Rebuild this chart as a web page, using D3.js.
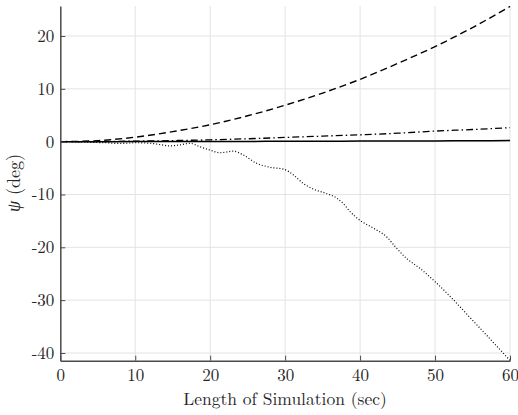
<!DOCTYPE html>
<html><head><meta charset="utf-8">
<script src="https://cdn.jsdelivr.net/npm/d3@7"></script>
<style>body{margin:0;background:#fff}svg{display:block}</style>
</head><body><svg id="c" width="518" height="415"></svg>
<script>
const xTicks = [0,10,20,30,40,50,60];
const yTicks = [-40,-30,-20,-10,0,10,20];
const tGrid = [0,5,10,15,20,25,30,35,40,45,50,55,60];
const dashedVals = [0,0.2,0.85,1.9,3.2,4.9,6.9,9.2,11.8,14.8,18.0,21.6,25.6];
const dashDotVals = [0,0.02,0.1,0.2,0.35,0.55,0.8,1.05,1.3,1.6,2.0,2.3,2.65];
const solidVals = [0,0,0.01,0.02,0.03,0.05,0.07,0.09,0.11,0.13,0.15,0.17,0.2];
const tDotted = [0,3,6,8,10,12,13.5,14.6,16,17.3,18.6,20,21.3,23.1,24.4,26.2,28,29.8,31.1,32.4,33.8,35.5,36.9,37.8,38.7,40,41.8,43.6,44.7,46.2,48,50,51.8,55,60];
const dottedVals = [0,-0.1,-0.2,-0.35,-0.2,-0.3,-0.6,-0.8,-0.6,-0.3,-0.95,-1.6,-2.1,-1.8,-2.5,-4.1,-4.85,-5.2,-6.3,-7.9,-9.0,-9.8,-10.7,-11.8,-13.3,-14.9,-16.4,-18.1,-19.9,-22.1,-24.0,-26.5,-29.0,-33.8,-41.4];

const svg = d3.select("#c");
const L=60.3, R=510, T=6, B=360.7;
const x = d3.scaleLinear().domain([0,60]).range([L,R]);
const y = d3.scaleLinear().domain([-41.46,25.68]).range([B,T]);
const font = '"Latin Modern Roman", "Liberation Serif", serif';

svg.append("g").selectAll("line").data(xTicks.slice(1)).join("line")
  .attr("x1",d=>x(d)).attr("x2",d=>x(d)).attr("y1",T).attr("y2",B)
  .attr("stroke","#e3e3e3").attr("stroke-width",1);
svg.append("g").selectAll("line").data(yTicks).join("line")
  .attr("x1",L).attr("x2",R).attr("y1",d=>y(d)).attr("y2",d=>y(d))
  .attr("stroke","#e3e3e3").attr("stroke-width",1);

function addLine(ts, vs, dash, w){
  const data = ts.map((t,i)=>[t,vs[i]]);
  svg.append("path").datum(data)
    .attr("d", d3.line().x(d=>x(d[0])).y(d=>y(d[1])).curve(d3.curveMonotoneX))
    .attr("fill","none").attr("stroke","#000").attr("stroke-width",w)
    .attr("stroke-dasharray",dash);
}
addLine(tGrid, solidVals, null, 1.5);
addLine(tGrid, dashedVals, "7,4", 1.4);
addLine(tGrid, dashDotVals, "7,3,1.5,3", 1.3);
addLine(tDotted, dottedVals, "1,2", 1.2);

const axCol="#4a4a4a";
const gx = svg.append("g").attr("transform",`translate(0,${B})`)
  .call(d3.axisBottom(x).tickValues(xTicks).tickSizeInner(-5).tickSizeOuter(0).tickPadding(0).tickFormat(d3.format("d")));
const gy = svg.append("g").attr("transform",`translate(${L},0)`)
  .call(d3.axisLeft(y).tickValues(yTicks).tickSizeInner(-5).tickSizeOuter(0).tickPadding(6).tickFormat(d=>d<0?"-"+Math.abs(d):String(d)));
[gx,gy].forEach(g=>{
  g.attr("font-family",null);
  g.select(".domain").attr("stroke",axCol).attr("stroke-width",1.5);
  g.selectAll(".tick line").attr("stroke",axCol).attr("stroke-width",1);
  g.selectAll("text").style("font-family",font).style("font-size","17px").attr("fill","#262626");
});
gx.selectAll("text").attr("y",20).attr("dy",null);

svg.append("text").attr("x",285).attr("y",405).attr("text-anchor","middle")
  .style("font-family",font).style("font-size","17.5px").attr("fill","#262626")
  .text("Length of Simulation (sec)");
svg.append("text").attr("transform","translate(20,183) rotate(-90)").attr("text-anchor","middle")
  .style("font-family",font).style("font-size","18px").attr("fill","#262626")
  .html("<tspan font-style='italic'>ψ</tspan> (deg)");
</script></body></html>
